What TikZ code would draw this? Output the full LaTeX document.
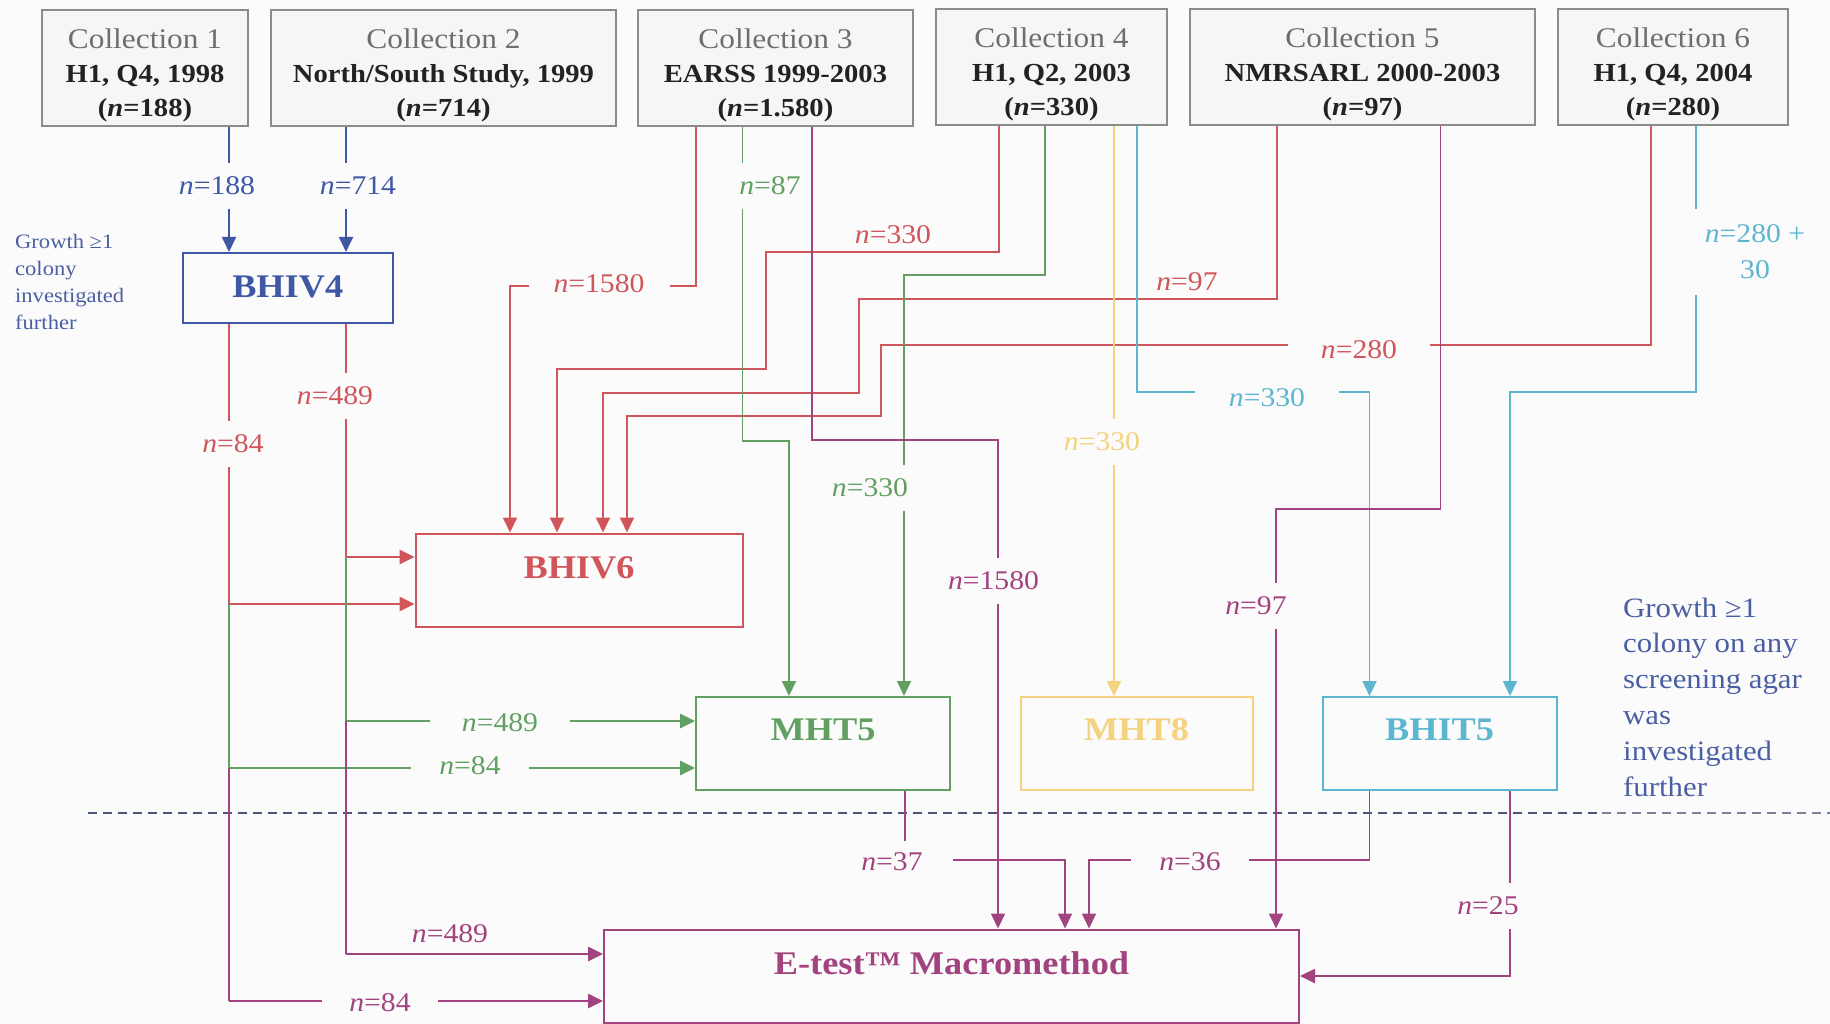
\documentclass[tikz,border=0pt]{standalone}
\usepackage{fontspec}
\setmainfont[FakeStretch=1.1]{Liberation Serif}
\usetikzlibrary{arrows.meta}
\definecolor{cred}{HTML}{D0565B}
\definecolor{cgreen}{HTML}{62A062}
\definecolor{cyel}{HTML}{F4D27E}
\definecolor{ccyan}{HTML}{5DB6CF}
\definecolor{cpurp}{HTML}{A2427F}
\definecolor{cblue}{HTML}{3E58A5}
\definecolor{ctxtblue}{HTML}{4A5FA3}
\definecolor{cgrayb}{HTML}{8C8C8C}
\definecolor{cgrayt}{HTML}{6E6E6E}
\definecolor{cdark}{HTML}{222222}
\definecolor{cdash}{HTML}{4B5878}
\definecolor{bg}{HTML}{FBFBFB}
\definecolor{cbox}{HTML}{F6F6F6}
\newcommand\coltitle[1]{{\color{cgrayt}\fontsize{28.5}{34}\selectfont #1}}
\begin{document}
\begin{tikzpicture}[x=1pt,y=-1pt,
  coll/.style={draw=cgrayb, line width=2pt, fill=cbox, minimum height=116pt, inner sep=0pt},
  colltext/.style={align=center, text=cdark, yshift=-7pt, inner sep=0pt, font=\fontsize{26}{34}\selectfont},
  flowbox/.style={line width=2pt, fill=bg, minimum height=93pt, inner sep=0pt},
  title/.style={font=\bfseries\fontsize{33}{36}\selectfont, inner sep=0pt},
  conn/.style={line width=1.8pt},
  thk/.style={line width=2.6pt},
  arr/.style={-{Triangle[length=15pt,width=14pt]}},
  lbl/.style={fill=bg, inner xsep=8pt, inner ysep=14pt, font=\fontsize{27}{30}\selectfont},
  plainlbl/.style={inner sep=0pt, font=\fontsize{27}{30}\selectfont},
]
\useasboundingbox (0,0) rectangle (1830,1024);
\fill[bg] (0,0) rectangle (1830,1024);

% collection boxes
\node[coll, minimum width=206pt, label={[colltext]center:\coltitle{Collection 1}\\\textbf{H1, Q4, 1998}\\\textbf{(\textit{n}=188)}}] (c1) at (145,68) {};
\node[coll, minimum width=345pt, label={[colltext]center:\coltitle{Collection 2}\\\textbf{North/South Study, 1999}\\\textbf{(\textit{n}=714)}}] (c2) at (443.5,68) {};
\node[coll, minimum width=275pt, label={[colltext]center:\coltitle{Collection 3}\\\textbf{EARSS 1999-2003}\\\textbf{(\textit{n}=1.580)}}] (c3) at (775.5,68) {};
\node[coll, minimum width=231pt, label={[colltext]center:\coltitle{Collection 4}\\\textbf{H1, Q2, 2003}\\\textbf{(\textit{n}=330)}}] (c4) at (1051.5,67.5) {};
\node[coll, minimum width=345pt, label={[colltext]center:\coltitle{Collection 5}\\\textbf{NMRSARL 2000-2003}\\\textbf{(\textit{n}=97)}}] (c5) at (1362.5,67.5) {};
\node[coll, minimum width=230pt, label={[colltext]center:\coltitle{Collection 6}\\\textbf{H1, Q4, 2004}\\\textbf{(\textit{n}=280)}}] (c6) at (1673,67.5) {};

% process boxes
\node[flowbox, draw=cblue, minimum width=210pt, minimum height=70pt, label={[title, text=cblue, yshift=1pt]center:BHIV4}] (bhiv4) at (287.75,288) {};
\node[flowbox, draw=cred, minimum width=327pt, label={[title, text=cred, yshift=12pt]center:BHIV6}] (bhiv6) at (579,580) {};
\node[flowbox, draw=cgreen, minimum width=254pt, label={[title, text=cgreen, yshift=13.5pt]center:MHT5}] (mht5) at (823,743.5) {};
\node[flowbox, draw=cyel, minimum width=232pt, label={[title, text=cyel, yshift=13.5pt]center:MHT8}] (mht8) at (1136.5,743.5) {};
\node[flowbox, draw=ccyan, minimum width=234pt, label={[title, text=ccyan, yshift=13.5pt]center:BHIT5}] (bhit5) at (1439.6,743.5) {};
\node[flowbox, draw=cpurp, minimum width=695pt, label={[title, text=cpurp, yshift=13pt]center:E-test™ Macromethod}] (etest) at (951.5,976) {};

% side notes
\node[anchor=west, align=left, inner sep=0pt, text=ctxtblue, font=\fontsize{20.5}{27}\selectfont] (notel) at (15,282) {Growth ≥1\\colony\\investigated\\further};
\node[anchor=west, align=left, inner sep=0pt, text=ctxtblue, font=\fontsize{28}{35.8}\selectfont] (noter) at (1623,697) {Growth ≥1\\colony on any\\screening agar\\was\\investigated\\further};

% divider
\coordinate (dA) at (88,813);
\coordinate (dB) at (1602,813);
\coordinate (dC) at (1830,813);
\draw[line width=2.6pt, cdash, dash pattern=on 9pt off 6pt] (dA) -- (dB);
\draw[line width=1.5pt, cdash!75, dash pattern=on 9pt off 6pt] (dB) -- (dC);

% blue
\draw[conn, cblue, arr] (c1.south -| 229,0) -- (bhiv4.north -| 229,0);
\draw[conn, cblue, arr] (c2.south -| 346,0) -- (bhiv4.north -| 346,0);

% outputs of BHIV4 down the left
\coordinate (r489) at (346,557);
\coordinate (r84) at (229,604);
\coordinate (g489) at (346,721);
\coordinate (g84) at (229,768);
\coordinate (p489) at (346,954);
\coordinate (p84) at (229,1001);
\draw[conn, cred] (bhiv4.south -| r489) -- (r489);
\draw[conn, cred] (bhiv4.south -| r84) -- (r84);
\draw[thk, cred, arr] (r489) -- (bhiv6.west |- r489);
\draw[thk, cred, arr] (r84) -- (bhiv6.west |- r84);
\draw[conn, cgreen] (r489) -- (g489);
\draw[conn, cgreen] (r84) -- (g84);
\draw[thk, cgreen, arr] (g489) -- (mht5.west |- g489);
\draw[thk, cgreen, arr] (g84) -- (mht5.west |- g84);
\draw[conn, cpurp] (g489) -- (p489);
\draw[conn, cpurp] (g84) -- (p84);
\draw[thk, cpurp, arr] (p489) -- (etest.west |- p489);
\draw[thk, cpurp, arr] (p84) -- (etest.west |- p84);

% red into BHIV6
\draw[conn, cred, arr] (c3.south -| 696,0) |- (510,286) -- (bhiv6.north -| 510,0);
\draw[conn, cred, arr] (c4.south -| 999,0) |- (766,252) |- (557,369) -- (bhiv6.north -| 557,0);
\draw[conn, cred, arr] (c5.south -| 1277,0) |- (858.6,299) |- (603,393) -- (bhiv6.north -| 603,0);
\draw[conn, cred, arr] (c6.south -| 1650.6,0) |- (881,345) |- (627,416) -- (bhiv6.north -| 627,0);

% green into MHT5
\draw[conn, cgreen, arr] (c3.south -| 742.5,0) |- (789,441) -- (mht5.north -| 789,0);
\draw[conn, cgreen, arr] (c4.south -| 1045,0) |- (904,275) -- (mht5.north -| 904,0);

% yellow into MHT8
\draw[conn, cyel, arr] (c4.south -| 1114,0) -- (mht8.north -| 1114,0);

% cyan into BHIT5
\draw[conn, ccyan, arr] (c4.south -| 1137,0) |- (1369.5,392) -- (bhit5.north -| 1369.5,0);
\draw[conn, ccyan, arr] (c6.south -| 1696,0) |- (1510,392) -- (bhit5.north -| 1510,0);

% purple into E-test
\draw[conn, cpurp, arr] (c3.south -| 812,0) |- (998,440) -- (etest.north -| 998,0);
\draw[conn, cpurp, arr] (c5.south -| 1440.5,0) |- (1276,509) -- (etest.north -| 1276,0);
\draw[conn, cpurp, arr] (mht5.south -| 905,0) |- (1065,860) -- (etest.north -| 1065,0);
\draw[conn, cpurp, arr] (bhit5.south -| 1369.5,0) |- (1089,860) -- (etest.north -| 1089,0);
\draw[thk, cpurp, arr] (bhit5.south -| 1510,0) |- (etest.east |- 0,976);

% labels
\node[lbl, text=cblue] (l188) at (217,186) {\textit{n}=188};
\node[lbl, text=cblue] (l714) at (358,186) {\textit{n}=714};
\node[lbl, text=cgreen, inner xsep=4pt] (l87) at (770,186) {\textit{n}=87};
\node[lbl, text=cred, inner xsep=25pt] (l1580r) at (599,284) {\textit{n}=1580};
\node[plainlbl, text=cred] (l330r) at (893,235) {\textit{n}=330};
\node[plainlbl, text=cred] (l97r) at (1187,282) {\textit{n}=97};
\node[lbl, text=cred, inner xsep=33pt] (l280r) at (1359,350) {\textit{n}=280};
\node[lbl, text=ccyan, align=center, font=\fontsize{27}{36}\selectfont, inner xsep=12pt, inner ysep=16pt] (l280c) at (1755,252) {\textit{n}=280 +\\30};
\node[lbl, text=ccyan, inner xsep=34pt] (l330c) at (1267,398) {\textit{n}=330};
\node[lbl, text=cred] (l489r) at (335,396) {\textit{n}=489};
\node[lbl, text=cred] (l84r) at (233,444) {\textit{n}=84};
\node[lbl, text=cyel] (l330y) at (1102,442) {\textit{n}=330};
\node[lbl, text=cgreen] (l330g) at (870,488) {\textit{n}=330};
\node[lbl, text=cpurp] (l1580p) at (993.5,581) {\textit{n}=1580};
\node[lbl, text=cpurp] (l97p) at (1256,606) {\textit{n}=97};
\node[lbl, text=cgreen, inner xsep=32pt] (l489g) at (500,723) {\textit{n}=489};
\node[lbl, text=cgreen, inner xsep=28pt] (l84g) at (470,766) {\textit{n}=84};
\node[lbl, text=cpurp, inner xsep=30pt, inner ysep=12pt] (l37) at (892,862) {\textit{n}=37};
\node[lbl, text=cpurp, inner xsep=28pt] (l36) at (1190,862) {\textit{n}=36};
\node[lbl, text=cpurp] (l25) at (1488,906) {\textit{n}=25};
\node[plainlbl, text=cpurp] (l489p) at (450,934) {\textit{n}=489};
\node[lbl, text=cpurp, inner xsep=27pt] (l84p) at (380,1003) {\textit{n}=84};
\end{tikzpicture}
\end{document}
